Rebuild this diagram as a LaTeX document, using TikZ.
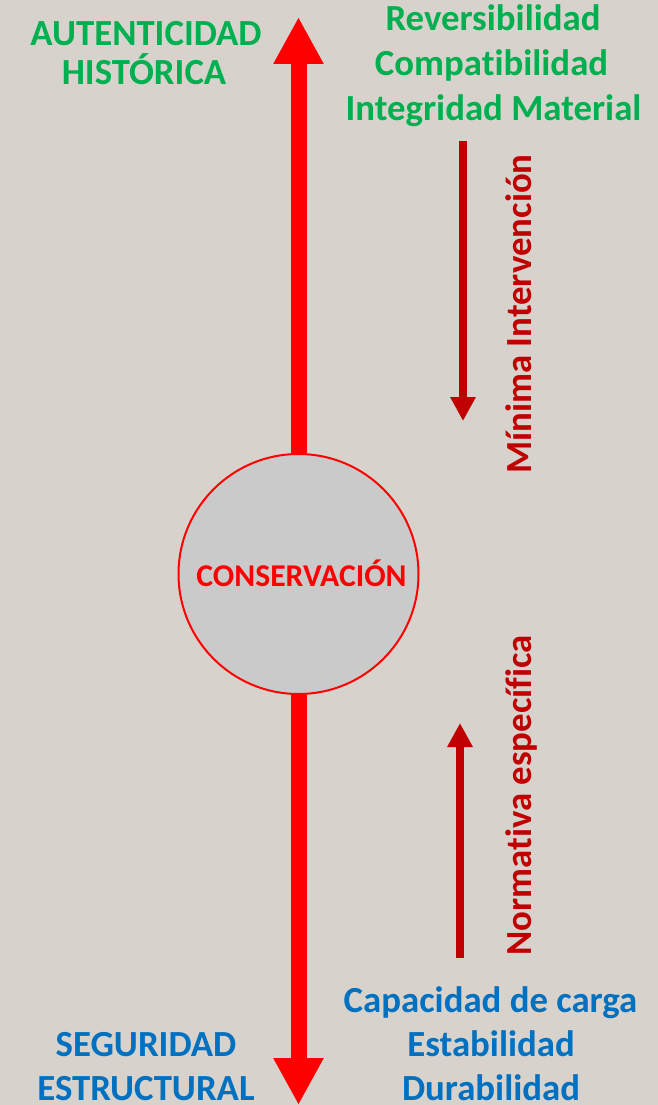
\documentclass[tikz,border=0pt]{standalone}
\usepackage{fontspec}
\setmainfont{Carlito}[Ligatures=NoCommon]
\usetikzlibrary{arrows.meta}
\definecolor{bg}{RGB}{215,210,203}
\definecolor{grn}{RGB}{0,176,80}
\definecolor{blu}{RGB}{0,112,192}
\definecolor{dred}{RGB}{192,0,0}
\definecolor{cgray}{RGB}{202,202,202}
\tikzset{
  lbl/.style={inner sep=0pt, anchor=base, font=\bfseries\fontsize{36.8}{44}\selectfont},
  greenlbl/.style={lbl, text=grn},
  bluelbl/.style={lbl, text=blu},
  sidelbl/.style={lbl, text=dred, rotate=90},
  bigarrow/.style={draw=red, line width=16pt, -{Triangle[length=47pt,width=47pt]}},
  smallarrow/.style={draw=dred, line width=7.5pt, -{Triangle[length=24pt,width=24pt]}},
  core/.style={circle, draw=red, line width=2pt, fill=cgray, minimum size=240pt, inner sep=0pt}
}
\begin{document}
\begin{tikzpicture}[x=1pt,y=-1pt]
\fill[bg] (0,0) rectangle (658,1105);
\useasboundingbox (0,0) rectangle (658,1105);
% central circle and main axis
\coordinate (topTip) at (298.5,17);
\coordinate (botTip) at (298.5,1105);
\node[core] (cons) at (298.5,574) {};
\draw[bigarrow] (cons.north) -- (topTip);
\draw[bigarrow] (cons.south) -- (botTip);
\node[inner sep=0pt, anchor=base, text=red, font=\bfseries\fontsize{31.7}{38}\selectfont] (consT) at (301.5,586.7) {CONSERVACIÓN};
% small arrows
\coordinate (dTop) at (463,141);
\coordinate (dTip) at (463,421);
\draw[smallarrow] (dTop) -- (dTip);
\coordinate (uBot) at (460,958);
\coordinate (uTip) at (460,723);
\draw[smallarrow] (uBot) -- (uTip);
% side labels
\node[sidelbl] (minima) at (531,314) {Mínima Intervención};
\node[sidelbl] (norma) at (531,795.5) {Normativa específica};
% green labels
\node[greenlbl] (aut1) at (146,45.7) {AUTENTICIDAD};
\node[greenlbl] (aut2) at (144,85) {HISTÓRICA};
\node[greenlbl] (rev) at (493,30.7) {Reversibilidad};
\node[greenlbl] (comp) at (491.5,76) {Compatibilidad};
\node[greenlbl] (integ) at (493.5,120.7) {Integridad Material};
% blue labels
\node[bluelbl] (cap) at (490.5,1012.3) {Capacidad de carga};
\node[bluelbl] (est) at (491,1056.7) {Estabilidad};
\node[bluelbl] (dur) at (491,1100) {Durabilidad};
\node[bluelbl] (seg1) at (146,1056) {SEGURIDAD};
\node[bluelbl] (seg2) at (146,1100) {ESTRUCTURAL};
\end{tikzpicture}
\end{document}
